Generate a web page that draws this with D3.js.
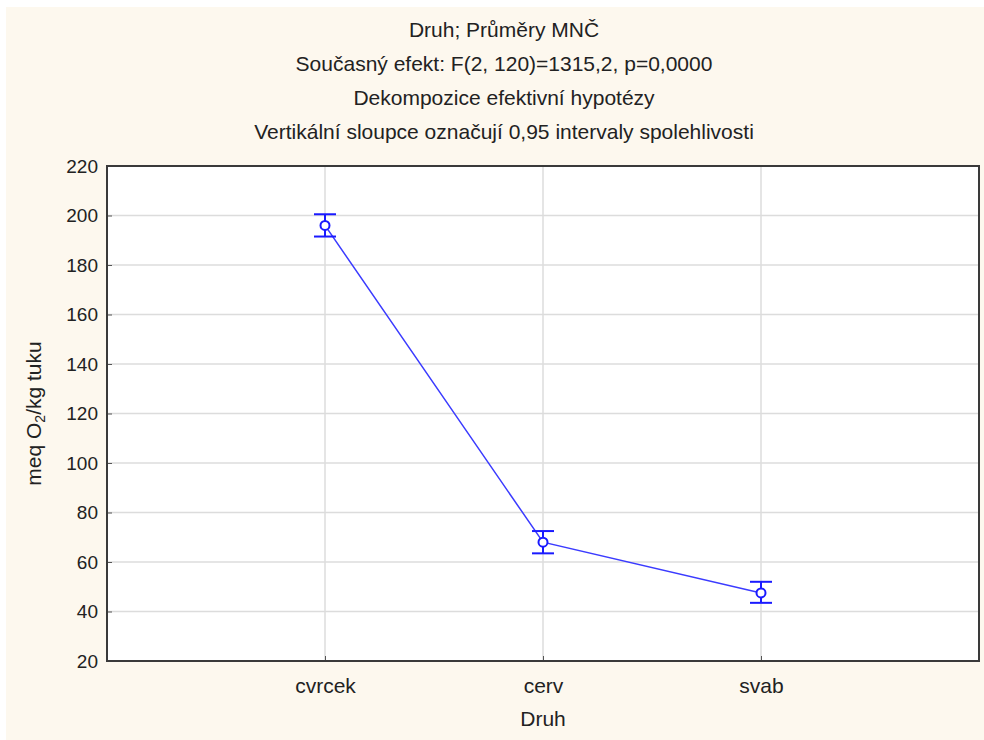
<!DOCTYPE html>
<html>
<head>
<meta charset="utf-8">
<script src="https://cdn.jsdelivr.net/npm/d3@7"></script>
<style>
  body { margin: 0; background: #fff; }
  svg { display: block; font-family: "Liberation Sans", Arial, sans-serif; }
</style>
</head>
<body>
<svg id="chart"></svg>
<script>
// data
const categories = ["cvrcek", "cerv", "svab"];
const means = [196, 68, 47.5];
const lower = [191.5, 63.5, 43.5];
const upper = [200.5, 72.5, 52];
const yTicks = [20, 40, 60, 80, 100, 120, 140, 160, 180, 200, 220];
const titleLines = [
  "Druh; Průměry MNČ",
  "Současný efekt: F(2, 120)=1315,2, p=0,0000",
  "Dekompozice efektivní hypotézy",
  "Vertikální sloupce označují 0,95 intervaly spolehlivosti"
];

const width = 984, height = 740;
const margin = {top: 166, right: 5, bottom: 79, left: 107};

const svg = d3.select("#chart").attr("width", width).attr("height", height);

// cream background
svg.append("rect")
  .attr("x", 6).attr("y", 7)
  .attr("width", width - 6).attr("height", height - 7)
  .attr("fill", "#fdf8ee");

const xScale = d3.scalePoint()
  .domain(categories)
  .range([margin.left, width - margin.right])
  .padding(1);
const yScale = d3.scaleLinear()
  .domain([20, 220])
  .range([height - margin.bottom, margin.top]);

// plot area
svg.append("rect")
  .attr("x", margin.left).attr("y", margin.top)
  .attr("width", width - margin.left - margin.right)
  .attr("height", height - margin.top - margin.bottom)
  .attr("fill", "#fff");

// grid
const grid = svg.append("g").attr("stroke", "#dcdcdc").attr("stroke-width", 1.5);
grid.selectAll("line.gy").data(yTicks.slice(1, -1)).join("line")
  .attr("x1", margin.left).attr("x2", width - margin.right)
  .attr("y1", d => yScale(d)).attr("y2", d => yScale(d));
grid.selectAll("line.gx").data(categories).join("line")
  .attr("x1", d => xScale(d)).attr("x2", d => xScale(d))
  .attr("y1", margin.top).attr("y2", height - margin.bottom);

// axes
const yAxis = d3.axisLeft(yScale).tickValues(yTicks).tickSize(-5).tickPadding(9);
svg.append("g")
  .attr("transform", `translate(${margin.left},0)`)
  .call(yAxis)
  .call(g => g.select(".domain").remove())
  .call(g => g.selectAll(".tick line").attr("stroke", "#555"))
  .call(g => g.selectAll(".tick text").attr("font-size", 19).attr("fill", "#222")
    .attr("font-family", "Liberation Sans, Arial, sans-serif"));

const xAxis = d3.axisBottom(xScale).tickSize(-5).tickPadding(17);
svg.append("g")
  .attr("transform", `translate(0,${height - margin.bottom})`)
  .call(xAxis)
  .call(g => g.select(".domain").remove())
  .call(g => g.selectAll(".tick line").attr("stroke", "#555"))
  .call(g => g.selectAll(".tick text").attr("font-size", 21).attr("fill", "#222")
    .attr("font-family", "Liberation Sans, Arial, sans-serif"));

// frame
svg.append("rect")
  .attr("x", margin.left).attr("y", margin.top)
  .attr("width", width - margin.left - margin.right)
  .attr("height", height - margin.top - margin.bottom)
  .attr("fill", "none").attr("stroke", "#3a3a3a").attr("stroke-width", 2);

// line
const pts = categories.map((c, i) => [c, means[i], lower[i], upper[i]]);
const line = d3.line().x(d => xScale(d[0])).y(d => yScale(d[1]));
svg.append("path")
  .datum(pts)
  .attr("fill", "none").attr("stroke", "#3b3bff").attr("stroke-width", 1.5)
  .attr("d", line);

// error bars
const eb = svg.append("g").attr("stroke", "#1a1aff").attr("stroke-width", 2).attr("fill", "none");
const capW = 11;
pts.forEach(d => {
  const x = xScale(d[0]);
  eb.append("line").attr("x1", x).attr("x2", x).attr("y1", yScale(d[2])).attr("y2", yScale(d[3]));
  eb.append("line").attr("x1", x - capW).attr("x2", x + capW).attr("y1", yScale(d[2])).attr("y2", yScale(d[2]));
  eb.append("line").attr("x1", x - capW).attr("x2", x + capW).attr("y1", yScale(d[3])).attr("y2", yScale(d[3]));
  eb.append("circle").attr("cx", x).attr("cy", yScale(d[1])).attr("r", 4.5).attr("fill", "#fff");
});

// titles
svg.append("g").selectAll("text").data(titleLines).join("text")
  .attr("x", 504)
  .attr("y", (d, i) => 37 + i * 34)
  .attr("text-anchor", "middle")
  .attr("font-size", 21).attr("fill", "#222")
  .text(d => d);

// axis titles
svg.append("text")
  .attr("x", xScale("cerv")).attr("y", 726)
  .attr("text-anchor", "middle").attr("font-size", 21).attr("fill", "#222")
  .text("Druh");

const yl = svg.append("text")
  .attr("transform", `translate(41,${(margin.top + height - margin.bottom) / 2}) rotate(-90)`)
  .attr("text-anchor", "middle").attr("font-size", 21).attr("fill", "#222");
yl.append("tspan").text("meq O");
yl.append("tspan").attr("font-size", 14).attr("dy", 4).text("2");
yl.append("tspan").attr("dy", -4).text("/kg tuku");
</script>
</body>
</html>
